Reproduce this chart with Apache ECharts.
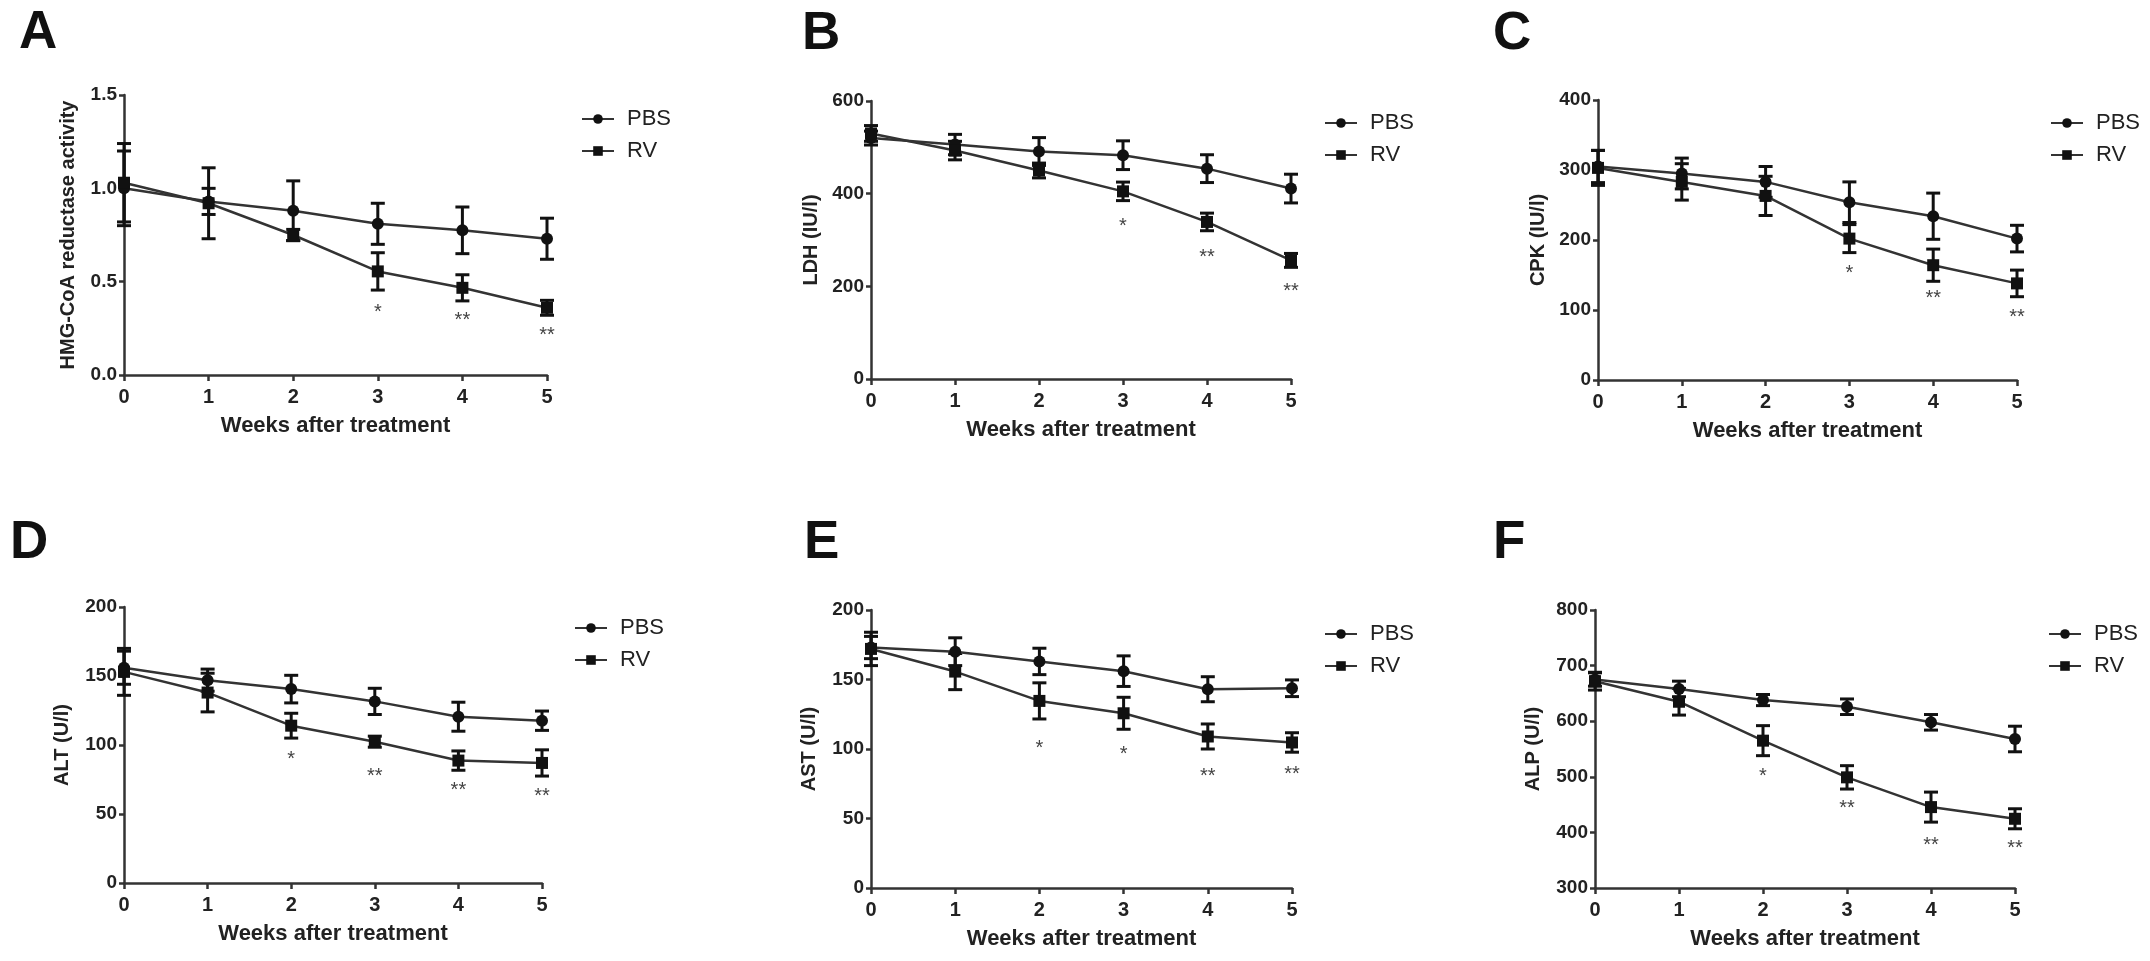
<!DOCTYPE html>
<html>
<head>
<meta charset="utf-8">
<script src="https://cdn.jsdelivr.net/npm/echarts@6/dist/echarts.min.js"></script>
<style>
html,body{margin:0;padding:0;background:#fff;}
#chart{width:2150px;height:961px;}
</style>
</head>
<body>
<div id="chart"></div>
<script>
// ---------- data ----------
const weeks = [0, 1, 2, 3, 4, 5];
const seriesNames = ['PBS', 'RV'];
const xTitle = 'Weeks after treatment';
const panelLetters = ['A', 'B', 'C', 'D', 'E', 'F'];
const yTitles = ['HMG-CoA reductase activity', 'LDH (IU/l)', 'CPK (IU/l)', 'ALT (U/l)', 'AST (U/l)', 'ALP (U/l)'];

// A: HMG-CoA reductase activity
const pbsA = [1.00, 0.93, 0.88, 0.81, 0.775, 0.73];
const pbsAErr = [0.20, 0.07, 0.16, 0.11, 0.125, 0.11];
const rvA = [1.03, 0.92, 0.75, 0.555, 0.467, 0.36];
const rvAErr = [0.21, 0.19, 0.03, 0.10, 0.07, 0.04];
const starA = ['', '', '', '*', '**', '**'];
const starAPos = [null, null, null, 0.36, 0.32, 0.24];

// B: LDH
const pbsB = [520, 506, 491, 483, 454, 411];
const pbsBErr = [15, 22, 30, 31, 30, 31];
const rvB = [530, 493, 450, 405, 339, 256];
const rvBErr = [17, 20, 16, 20, 19, 15];
const starB = ['', '', '', '*', '**', '**'];
const starBPos = [null, null, null, 339, 274, 199];

// C: CPK
const pbsC = [305, 295, 283, 254, 234, 202];
const pbsCErr = [23, 22, 22, 29, 33, 19];
const rvC = [303, 283, 263, 202, 164, 138];
const rvCErr = [25, 26, 28, 20, 23, 19];
const starC = ['', '', '', '*', '**', '**'];
const starCPos = [null, null, null, 159, 123, 97];

// D: ALT
const pbsD = [156, 147, 140.5, 131.6, 120.5, 117.6];
const pbsDErr = [12, 8, 10, 9.5, 10.5, 7];
const rvD = [153, 138, 114, 102.4, 88.7, 87];
const rvDErr = [17, 14, 9, 4, 7, 9.5];
const starD = ['', '', '*', '**', '**', '**'];
const starDPos = [null, null, 93, 81, 70.6, 66.5];

// E: AST
const pbsE = [173, 170, 163, 156, 143, 143.7];
const pbsEErr = [8, 10, 9.5, 11, 9, 6];
const rvE = [172, 155.7, 134.6, 125.7, 109, 104.7];
const rvEErr = [12, 13, 13, 11.5, 9, 7];
const starE = ['', '', '*', '*', '**', '**'];
const starEPos = [null, null, 104, 100, 83.8, 85.5];

// F: ALP
const pbsF = [675, 658, 638, 626, 598, 568];
const pbsFErr = [12, 14, 10, 14, 14, 23];
const rvF = [672, 635, 565, 499, 445.5, 424.5];
const rvFErr = [16, 24, 27, 21, 27, 18];
const starF = ['', '', '*', '**', '**', '**'];
const starFPos = [null, null, 509.6, 452.7, 385.6, 379.6];

// y-axis ranges
const yMin = [0, 0, 0, 0, 0, 300];
const yMax = [1.5, 600, 400, 200, 200, 800];
const yStep = [0.5, 200, 100, 50, 50, 100];

// ---------- layout / style ----------
const FONT = "'Liberation Sans', Arial, Helvetica, sans-serif";
const INK = '#222';
const grids = [
  {left: 124, top: 95, width: 423, height: 280},
  {left: 871, top: 101, width: 420, height: 278},
  {left: 1598, top: 100, width: 419, height: 280},
  {left: 124, top: 607, width: 418, height: 276},
  {left: 871, top: 610, width: 421, height: 278},
  {left: 1595, top: 610, width: 420, height: 278}
];
const legendPos = [
  {left: 576, top: 103}, {left: 1319, top: 107}, {left: 2045, top: 107},
  {left: 569, top: 612}, {left: 1319, top: 618}, {left: 2043, top: 618}
];
const letterPos = [
  {left: 19, top: 7}, {left: 802, top: 8}, {left: 1493, top: 8},
  {left: 10, top: 517}, {left: 804, top: 517}, {left: 1493, top: 517}
];
const yNameGap = [46, 50, 50, 52, 52, 52];

const panels = [
  {pbs: pbsA, pbsErr: pbsAErr, rv: rvA, rvErr: rvAErr, star: starA, starPos: starAPos},
  {pbs: pbsB, pbsErr: pbsBErr, rv: rvB, rvErr: rvBErr, star: starB, starPos: starBPos},
  {pbs: pbsC, pbsErr: pbsCErr, rv: rvC, rvErr: rvCErr, star: starC, starPos: starCPos},
  {pbs: pbsD, pbsErr: pbsDErr, rv: rvD, rvErr: rvDErr, star: starD, starPos: starDPos},
  {pbs: pbsE, pbsErr: pbsEErr, rv: rvE, rvErr: rvEErr, star: starE, starPos: starEPos},
  {pbs: pbsF, pbsErr: pbsFErr, rv: rvF, rvErr: rvFErr, star: starF, starPos: starFPos}
];

function errorBars(idx, means, errs) {
  return {
    type: 'custom', xAxisIndex: idx, yAxisIndex: idx, silent: true, z: 2,
    data: means.map((m, i) => [weeks[i], m - errs[i], m + errs[i]]),
    renderItem: function (params, api) {
      const x = api.value(0);
      const lo = api.coord([x, api.value(1)]);
      const hi = api.coord([x, api.value(2)]);
      const hw = 7;
      const st = {stroke: '#111', lineWidth: 3};
      return {
        type: 'group', children: [
          {type: 'line', shape: {x1: lo[0], y1: lo[1], x2: hi[0], y2: hi[1]}, style: st},
          {type: 'line', shape: {x1: lo[0] - hw, y1: lo[1], x2: lo[0] + hw, y2: lo[1]}, style: st},
          {type: 'line', shape: {x1: hi[0] - hw, y1: hi[1], x2: hi[0] + hw, y2: hi[1]}, style: st}
        ]
      };
    }
  };
}

function stars(idx, labels, pos) {
  const data = [];
  const texts = [];
  pos.forEach((p, i) => { if (p !== null) { data.push([weeks[i], p]); texts.push(labels[i]); } });
  return {
    type: 'custom', xAxisIndex: idx, yAxisIndex: idx, silent: true, z: 3,
    data: data,
    renderItem: function (params, api) {
      const c = api.coord([api.value(0), api.value(1)]);
      return {
        type: 'text', x: c[0], y: c[1] + 5,
        style: {
          text: texts[params.dataIndex], fill: '#444',
          font: '20px ' + FONT, textAlign: 'center', textVerticalAlign: 'middle'
        }
      };
    }
  };
}

function lineSeries(idx, name, means, symbol) {
  return {
    type: 'line', name: name, xAxisIndex: idx, yAxisIndex: idx, z: 4,
    data: means.map((m, i) => [weeks[i], m]),
    symbol: symbol, symbolSize: 12, showSymbol: true,
    itemStyle: {color: '#111', borderWidth: 0},
    lineStyle: {color: '#333', width: 2.5},
    animation: false
  };
}

const option = {
  backgroundColor: '#fff',
  animation: false,
  textStyle: {fontFamily: FONT},
  grid: grids.map(g => Object.assign({containLabel: false}, g)),
  xAxis: grids.map((g, i) => ({
    type: 'value', gridIndex: i, min: 0, max: 5, interval: 1,
    name: xTitle, nameLocation: 'middle', nameGap: 40,
    nameTextStyle: {fontSize: 22, fontWeight: 'bold', color: INK, fontFamily: FONT},
    axisLine: {show: true, onZero: false, lineStyle: {color: '#333', width: 2.5}},
    axisTick: {show: true, inside: false, length: 6, lineStyle: {color: '#333', width: 2.5}},
    axisLabel: {fontSize: 20, fontWeight: 'bold', color: INK, margin: 12, fontFamily: FONT},
    splitLine: {show: false}
  })),
  yAxis: grids.map((g, i) => ({
    type: 'value', gridIndex: i, min: yMin[i], max: yMax[i], interval: yStep[i],
    name: yTitles[i], nameLocation: 'middle', nameGap: yNameGap[i], nameRotate: 90,
    nameTextStyle: {fontSize: 20, fontWeight: 'bold', color: INK, fontFamily: FONT},
    axisLine: {show: true, onZero: false, lineStyle: {color: '#333', width: 2.5}},
    axisTick: {show: true, inside: false, length: 5, lineStyle: {color: '#333', width: 2.5}},
    axisLabel: {
      fontSize: 19, fontWeight: 'bold', color: INK, margin: 7, fontFamily: FONT,
      formatter: i === 0 ? (v => v.toFixed(1)) : (v => String(v))
    },
    splitLine: {show: false}
  })),
  legend: legendPos.map(p => ({
    data: seriesNames, orient: 'vertical', left: p.left, top: p.top,
    itemWidth: 32, itemHeight: 12, itemGap: 10, selectedMode: false,
    textStyle: {fontSize: 22, color: INK, fontFamily: FONT, lineHeight: 22, padding: [0, 0, 0, 8]}
  })),
  graphic: letterPos.map((p, i) => ({
    type: 'text', left: p.left, top: p.top,
    style: {text: panelLetters[i], font: 'bold 53px ' + FONT, fill: '#111'}
  })),
  series: []
};

panels.forEach((p, i) => {
  option.series.push(errorBars(i, p.pbs, p.pbsErr));
  option.series.push(errorBars(i, p.rv, p.rvErr));
  option.series.push(lineSeries(i, 'PBS', p.pbs, 'circle'));
  option.series.push(lineSeries(i, 'RV', p.rv, 'rect'));
  option.series.push(stars(i, p.star, p.starPos));
});

const chart = echarts.init(document.getElementById('chart'), null, {renderer: 'canvas'});
chart.setOption(option);
</script>
</body>
</html>
